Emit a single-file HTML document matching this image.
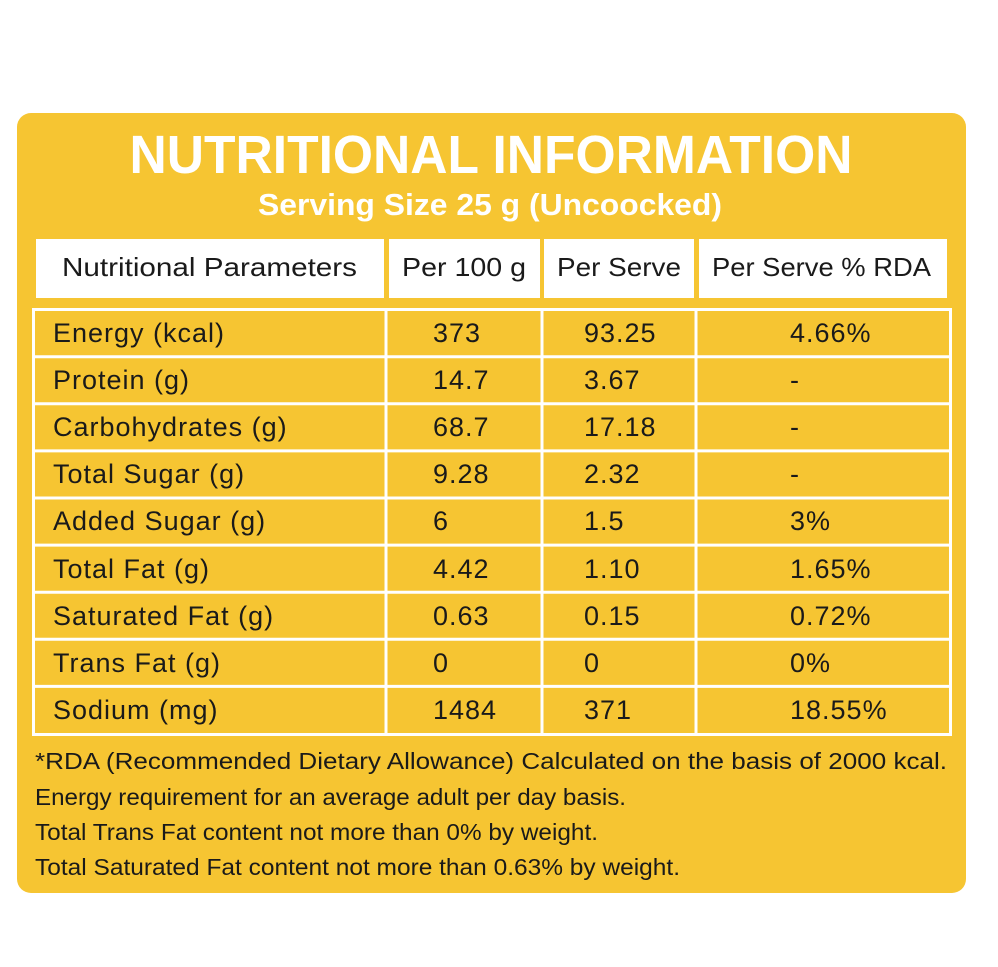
<!DOCTYPE html>
<html><head><meta charset="utf-8"><style>
html,body{margin:0;padding:0;background:#fff;}
svg{display:block;}
text{font-family:"Liberation Sans",sans-serif;}
</style></head><body>
<svg width="998" height="967" viewBox="0 0 998 967" xmlns="http://www.w3.org/2000/svg">
<rect x="0" y="0" width="998" height="967" fill="#fff"/>
<rect x="17" y="113" width="949" height="780" rx="14" fill="#F6C532"/>
<text x="491" y="173" font-size="54" font-weight="bold" fill="#fff" text-anchor="middle" textLength="723" lengthAdjust="spacingAndGlyphs">NUTRITIONAL INFORMATION</text>
<text x="490" y="215" font-size="31" font-weight="bold" fill="#fff" text-anchor="middle" textLength="464" lengthAdjust="spacingAndGlyphs">Serving Size 25 g (Uncoocked)</text>
<rect x="36" y="239" width="348" height="59" fill="#fff"/>
<rect x="389" y="239" width="151" height="59" fill="#fff"/>
<rect x="544" y="239" width="150" height="59" fill="#fff"/>
<rect x="699" y="239" width="248" height="59" fill="#fff"/>
<g font-size="26" fill="#1a1a1a">
<text x="62" y="276" textLength="295" lengthAdjust="spacingAndGlyphs">Nutritional Parameters</text>
<text x="402" y="276" textLength="124" lengthAdjust="spacingAndGlyphs">Per 100 g</text>
<text x="557" y="276" textLength="124" lengthAdjust="spacingAndGlyphs">Per Serve</text>
<text x="712" y="276" textLength="219" lengthAdjust="spacingAndGlyphs">Per Serve % RDA</text>
</g>
<g fill="none" stroke="#fff" stroke-width="3">
<rect x="33.5" y="309.5" width="917" height="425"/>
<line x1="386" y1="309" x2="386" y2="735"/>
<line x1="542" y1="309" x2="542" y2="735"/>
<line x1="696" y1="309" x2="696" y2="735"/>
<line x1="33" y1="356.7" x2="951" y2="356.7"/>
<line x1="33" y1="403.8" x2="951" y2="403.8"/>
<line x1="33" y1="450.9" x2="951" y2="450.9"/>
<line x1="33" y1="498" x2="951" y2="498"/>
<line x1="33" y1="545.1" x2="951" y2="545.1"/>
<line x1="33" y1="592.2" x2="951" y2="592.2"/>
<line x1="33" y1="639.3" x2="951" y2="639.3"/>
<line x1="33" y1="686.4" x2="951" y2="686.4"/>
</g>
<g font-size="27" fill="#1a1a1a" letter-spacing="1">
<text x="53" y="342">Energy (kcal)</text><text x="433" y="342">373</text><text x="584" y="342">93.25</text><text x="790" y="342">4.66%</text>
<text x="53" y="389">Protein (g)</text><text x="433" y="389">14.7</text><text x="584" y="389">3.67</text><text x="790" y="389">-</text>
<text x="53" y="436">Carbohydrates (g)</text><text x="433" y="436">68.7</text><text x="584" y="436">17.18</text><text x="790" y="436">-</text>
<text x="53" y="483">Total Sugar (g)</text><text x="433" y="483">9.28</text><text x="584" y="483">2.32</text><text x="790" y="483">-</text>
<text x="53" y="530">Added Sugar (g)</text><text x="433" y="530">6</text><text x="584" y="530">1.5</text><text x="790" y="530">3%</text>
<text x="53" y="578">Total Fat (g)</text><text x="433" y="578">4.42</text><text x="584" y="578">1.10</text><text x="790" y="578">1.65%</text>
<text x="53" y="625">Saturated Fat (g)</text><text x="433" y="625">0.63</text><text x="584" y="625">0.15</text><text x="790" y="625">0.72%</text>
<text x="53" y="672">Trans Fat (g)</text><text x="433" y="672">0</text><text x="584" y="672">0</text><text x="790" y="672">0%</text>
<text x="53" y="719">Sodium (mg)</text><text x="433" y="719">1484</text><text x="584" y="719">371</text><text x="790" y="719">18.55%</text>
</g>
<g font-size="23" fill="#1a1a1a">
<text x="35" y="769" textLength="912" lengthAdjust="spacingAndGlyphs">*RDA (Recommended Dietary Allowance) Calculated on the basis of 2000 kcal.</text>
<text x="35" y="805" textLength="591" lengthAdjust="spacingAndGlyphs">Energy requirement for an average adult per day basis.</text>
<text x="35" y="840" textLength="563" lengthAdjust="spacingAndGlyphs">Total Trans Fat content not more than 0% by weight.</text>
<text x="35" y="875" textLength="645" lengthAdjust="spacingAndGlyphs">Total Saturated Fat content not more than 0.63% by weight.</text>
</g>
</svg>
</body></html>
